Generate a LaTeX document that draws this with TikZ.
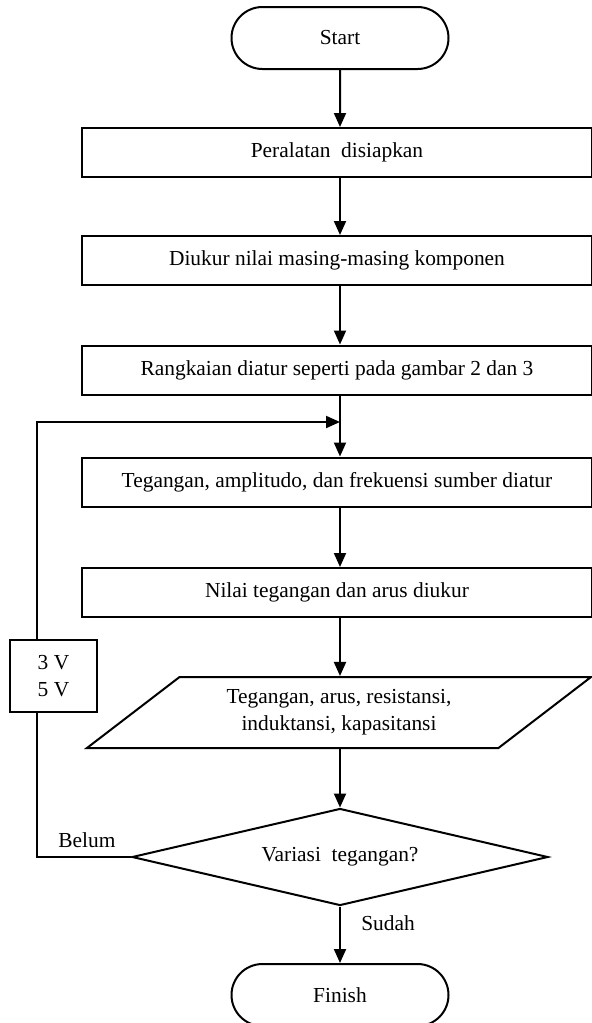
\documentclass[tikz,border=0pt]{standalone}
\usepackage{fontspec}
\setmainfont{Liberation Serif}
\usetikzlibrary{arrows.meta,shapes.geometric,shapes.misc}

\begin{document}
\begin{tikzpicture}[x=0.5pt, y=-0.5pt, line width=1pt,
        font={\fontsize{10.7}{13.5}\selectfont},
        term/.style={draw, rounded rectangle, minimum width=108.5pt, minimum height=31pt, inner sep=0pt},
        proc/.style={draw, rectangle, minimum width=255pt, minimum height=24.5pt, inner sep=0pt},
        io/.style={draw, trapezium, trapezium left angle=35, trapezium right angle=145, trapezium stretches=true,
            minimum width=252.5pt, minimum height=35.5pt, inner sep=0pt, align=center},
        dec/.style={draw, diamond, aspect=4.3, minimum width=208pt, minimum height=48.5pt, inner sep=0pt},
        arr/.style={-{Triangle[width=6pt,length=7pt]}}]
        \useasboundingbox (0,0) rectangle (592,1023);

        \node[term] (start) at (340, 38) {Start};
        \node[proc] (p1) at (337, 152.5) {Peralatan~ disiapkan};
        \node[proc] (p2) at (337, 260.5) {Diukur nilai masing-masing komponen};
        \node[proc] (p3) at (337, 370) {Rangkaian diatur seperti pada gambar 2 dan 3};
        \node[proc] (p4) at (337, 482) {Tegangan, amplitudo, dan frekuensi sumber diatur};
        \node[proc] (p5) at (337, 592.5) {Nilai tegangan dan arus diukur};
        \node[io] (data) at (339, 712.5) {Tegangan, arus, resistansi,\\induktansi, kapasitansi};
        \node[dec] (var) at (340, 857) {Variasi~ tegangan?};
        \node[term] (finish) at (340, 995) {Finish};

        \node[draw, minimum width=43.5pt, minimum height=36pt, inner sep=0pt, align=center] (volt) at (53.5, 676) {3 V\\5 V};
        \node (belumlbl) at (87, 840) {Belum};
        \node (sudahlbl) at (388, 923) {Sudah};

        \draw[arr] (start) -- (start |- p1.north);
        \draw[arr] (p1.south -| start) -- (p2.north -| start);
        \draw[arr] (p2.south -| start) -- (p3.north -| start);
        \draw[arr] (p3.south -| start) -- (p4.north -| start);
        \draw[arr] (p4.south -| start) -- (p5.north -| start);
        \draw[arr] (p5.south -| start) -- (data.north -| start);
        \draw[arr] (data.south -| start) -- (var.north);
        \draw[arr] (var.south) -- (finish.north);

        % loop back
        \coordinate (belum) at (37, 857);
        \coordinate (top) at (37, 422);
        \coordinate (join) at (start |- top);
        \draw (var.west) -- (belum) -- (belum |- volt.south);
        \draw[arr] (belum |- volt.north) -- (top) -- (join);
\end{tikzpicture}
\end{document}
